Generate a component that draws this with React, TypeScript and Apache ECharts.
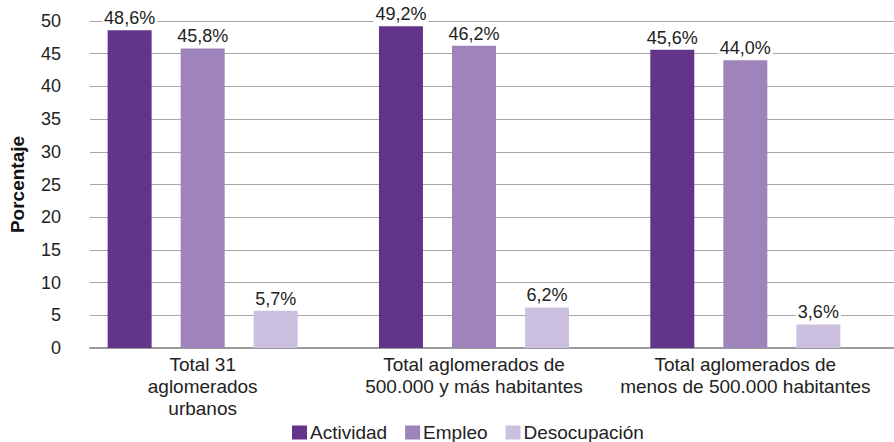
import React, { useEffect, useRef } from "react";
import * as echarts from "echarts";

const categories = [
  "Total 31\naglomerados\nurbanos",
  "Total aglomerados de\n500.000 y más habitantes",
  "Total aglomerados de\nmenos de 500.000 habitantes",
];
const actividad = [48.6, 49.2, 45.6];
const empleo = [45.8, 46.2, 44.0];
const desocupacion = [5.7, 6.2, 3.6];
const seriesNames = ["Actividad", "Empleo", "Desocupación"];
const colors = ["#62358A", "#9E84BB", "#CBC0E0"];

const FONT = "'Liberation Sans', Arial, sans-serif";

export default function App() {
  const ref = useRef<HTMLDivElement>(null);
  useEffect(() => {
    if (!ref.current) return;
    const chart = echarts.init(ref.current, null, { renderer: "svg" });
    const fmt = (p: any) => p.value.toFixed(1).replace(".", ",") + "%";
    const mk = (name: string, data: number[], color: string) => ({
      name,
      type: "bar",
      xAxisIndex: 1,
      yAxisIndex: 1,
      data,
      barWidth: 44,
      barGap: "66%",
      itemStyle: { color },
      label: {
        show: true,
        position: "top",
        distance: 3,
        formatter: fmt,
        fontSize: 18,
        fontFamily: FONT,
        color: "#222",
        backgroundColor: "#fff",
        padding: [0, 2],
      },
    });
    chart.setOption({
      animation: false,
      textStyle: { fontFamily: FONT },
      legend: {
        data: seriesNames,
        top: 423,
        left: 292,
        padding: 0,
        icon: "rect",
        itemWidth: 15,
        itemHeight: 14,
        itemGap: 18,
        textStyle: { fontSize: 19, color: "#222", fontFamily: FONT, padding: [0, 0, 0, -2] },
      },
      grid: [
        { left: 88, right: 0, top: 21, bottom: 94 },
        { left: 67, right: 13, top: 21, bottom: 94 },
      ],
      xAxis: [
        {
          gridIndex: 0,
          type: "category",
          data: [""],
          axisLine: { show: true, lineStyle: { color: "#9a9a9a", width: 2 } },
          axisTick: { show: false },
          axisLabel: { show: false },
        },
        {
          gridIndex: 1,
          type: "category",
          data: categories,
          axisLine: { show: false },
          axisTick: { show: false },
          axisLabel: {
            fontSize: 19,
            lineHeight: 22,
            margin: 5,
            color: "#222",
            fontFamily: FONT,
            interval: 0,
          },
        },
      ],
      yAxis: [
        {
          gridIndex: 0,
          type: "value",
          min: 0,
          max: 50,
          interval: 5,
          name: "Porcentaje",
          nameLocation: "middle",
          nameGap: 63,
          nameTextStyle: { fontSize: 19, fontWeight: "bold", color: "#111", fontFamily: FONT },
          axisLine: { show: false },
          axisTick: { show: false },
          axisLabel: { fontSize: 18, margin: 29, color: "#222", fontFamily: FONT },
          splitLine: { lineStyle: { color: "#a6a6a6", width: 1 } },
        },
        {
          gridIndex: 1,
          type: "value",
          min: 0,
          max: 50,
          show: false,
          splitLine: { show: false },
        },
      ],
      series: [
        mk(seriesNames[0], actividad, colors[0]),
        mk(seriesNames[1], empleo, colors[1]),
        mk(seriesNames[2], desocupacion, colors[2]),
      ],
    });
    return () => chart.dispose();
  }, []);
  return <div ref={ref} style={{ width: 894, height: 442, position: "absolute", left: 0, top: 0 }} />;
}
